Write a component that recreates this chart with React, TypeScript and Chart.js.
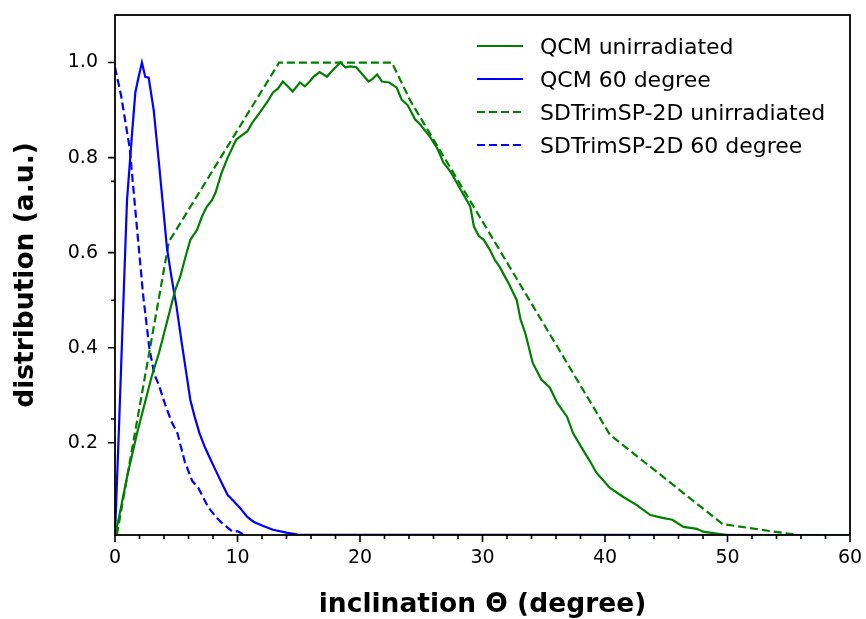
import React, { useEffect, useRef } from "react";
import { Chart, registerables } from "chart.js";

Chart.register(...registerables);

// ---- data (x = inclination in degree, y = distribution a.u.) ----
const qcmUnirradiated: [number, number][] = [
  [0, 0.006], [0.33, 0.044], [1.0, 0.13], [1.8, 0.22], [2.4, 0.28], [3.0, 0.34],
  [3.6, 0.39], [4.1, 0.44], [4.5, 0.48], [4.9, 0.52], [5.33, 0.55], [5.74, 0.59],
  [6.15, 0.627], [6.7, 0.648], [7.1, 0.676], [7.5, 0.697], [7.9, 0.71], [8.2, 0.726],
  [8.7, 0.768], [9.2, 0.8], [9.9, 0.838], [10.4, 0.848], [10.8, 0.855], [11.2, 0.873],
  [11.8, 0.894], [12.4, 0.916], [12.9, 0.937], [13.3, 0.945], [13.7, 0.96], [14.1, 0.95],
  [14.5, 0.939], [15.1, 0.958], [15.5, 0.95], [15.9, 0.96], [16.2, 0.97], [16.7, 0.98],
  [17.0, 0.975], [17.3, 0.97], [17.8, 0.985], [18.4, 1.0], [18.8, 0.99], [19.2, 0.992],
  [19.7, 0.99], [20.2, 0.975], [20.7, 0.96], [21.0, 0.965], [21.4, 0.975], [21.8, 0.96],
  [22.4, 0.958], [23.0, 0.947], [23.4, 0.922], [23.9, 0.91], [24.1, 0.9], [24.5, 0.88],
  [24.9, 0.87], [25.7, 0.844], [26.3, 0.82], [26.8, 0.79], [27.4, 0.77], [27.9, 0.747],
  [28.5, 0.72], [29.0, 0.697], [29.3, 0.655], [29.7, 0.635], [30.1, 0.627], [30.6, 0.606],
  [31.0, 0.585], [31.4, 0.57], [32.1, 0.537], [32.8, 0.5], [33.1, 0.46], [33.5, 0.43],
  [34.1, 0.368], [34.8, 0.333], [35.5, 0.316], [36.1, 0.284], [36.9, 0.255], [37.4, 0.22],
  [38.2, 0.185], [38.8, 0.16], [39.3, 0.137], [40.4, 0.105], [41.5, 0.086], [42.6, 0.069],
  [43.7, 0.048], [44.7, 0.042], [45.5, 0.038], [46.4, 0.023], [47.5, 0.019], [48.0, 0.013],
  [49.1, 0.009], [50.0, 0.006], [60.0, 0.006],
];

const qcm60Degree: [number, number][] = [
  [0, 0.006], [0.35, 0.25], [0.7, 0.507], [0.98, 0.71], [1.39, 0.85], [1.66, 0.937],
  [1.93, 0.97], [2.2, 1.0], [2.47, 0.97], [2.75, 0.968], [3.16, 0.9], [3.56, 0.796],
  [3.84, 0.72], [4.24, 0.61], [4.6, 0.55], [5.0, 0.49], [5.45, 0.41], [5.9, 0.333],
  [6.15, 0.29], [6.5, 0.255], [6.9, 0.22], [7.35, 0.19], [7.8, 0.165], [8.2, 0.143],
  [8.7, 0.116], [9.2, 0.09], [9.7, 0.077], [10.2, 0.063], [10.8, 0.044], [11.3, 0.034],
  [12.1, 0.025], [12.9, 0.017], [14.0, 0.011], [14.9, 0.007], [60.0, 0.006],
];

const sdtrimUnirradiated: [number, number][] = [
  [0.15, 0.006], [4.4, 0.623], [13.4, 1.0], [22.6, 1.0], [24.1, 0.92],
  [40.4, 0.217], [49.6, 0.029], [55.7, 0.006], [60.0, 0.006],
];

const sdtrim60Degree: [number, number][] = [
  [0, 0.99], [0.5, 0.93], [1.2, 0.82], [1.8, 0.65], [2.3, 0.51], [2.8, 0.4],
  [3.2, 0.345], [3.6, 0.32], [4.1, 0.28], [4.6, 0.245], [5.1, 0.22], [5.7, 0.16],
  [6.3, 0.12], [6.8, 0.105], [7.6, 0.065], [8.2, 0.045], [8.7, 0.032], [9.6, 0.013],
  [10.0, 0.014], [10.5, 0.007],
];

const seriesLabels = [
  "QCM unirradiated",
  "QCM 60 degree",
  "SDTrimSP-2D unirradiated",
  "SDTrimSP-2D 60 degree",
];

const xMajorTicks = [0, 10, 20, 30, 40, 50, 60];
const xMinorTicks = [2, 4, 6, 8, 12, 14, 16, 18, 22, 24, 26, 28, 32, 34, 36, 38, 42, 44, 46, 48, 52, 54, 56, 58];
const yMajorTicks = [0.2, 0.4, 0.6, 0.8, 1.0];
const yMinorTicks = [0.25, 0.5, 0.75];

const FONT = "'DejaVu Sans', sans-serif";

const frameTicksPlugin = {
  id: "frameTicks",
  afterDatasetsDraw(chart: any) {
    const { ctx, chartArea } = chart;
    const xs = chart.scales.x;
    const ys = chart.scales.y;
    ctx.save();
    ctx.strokeStyle = "#000";
    ctx.lineWidth = 1.6;
    ctx.beginPath();
    xMajorTicks.forEach((v) => {
      const px = xs.getPixelForValue(v);
      ctx.moveTo(px, chartArea.bottom);
      ctx.lineTo(px, chartArea.bottom + 7);
    });
    xMinorTicks.forEach((v) => {
      const px = xs.getPixelForValue(v);
      ctx.moveTo(px, chartArea.bottom);
      ctx.lineTo(px, chartArea.bottom + 4);
    });
    yMajorTicks.forEach((v) => {
      const py = ys.getPixelForValue(v);
      ctx.moveTo(chartArea.left, py);
      ctx.lineTo(chartArea.left - 7, py);
    });
    yMinorTicks.forEach((v) => {
      const py = ys.getPixelForValue(v);
      ctx.moveTo(chartArea.left, py);
      ctx.lineTo(chartArea.left - 4, py);
    });
    ctx.stroke();
    ctx.lineWidth = 1.8;
    ctx.strokeRect(
      chartArea.left,
      chartArea.top,
      chartArea.right - chartArea.left,
      chartArea.bottom - chartArea.top
    );
    ctx.restore();
  },
};

const legendPlugin = {
  id: "customLegend",
  afterDraw(chart: any) {
    const { ctx, chartArea } = chart;
    ctx.save();
    ctx.font = `22px ${FONT}`;
    ctx.textBaseline = "middle";
    ctx.textAlign = "left";
    chart.data.datasets.forEach((ds: any, i: number) => {
      const y = chartArea.top + 31 + i * 33;
      const x0 = chartArea.right - 373;
      ctx.strokeStyle = ds.borderColor;
      ctx.lineWidth = ds.borderWidth;
      ctx.setLineDash(ds.borderDash || []);
      ctx.beginPath();
      ctx.moveTo(x0, y);
      ctx.lineTo(x0 + 46, y);
      ctx.stroke();
      ctx.setLineDash([]);
      ctx.fillStyle = "#000";
      ctx.fillText(ds.label, chartArea.right - 310, y + 2);
    });
    ctx.restore();
  },
};

const toPoints = (arr: [number, number][]) => arr.map(([x, y]) => ({ x, y }));

const zeroPadding = (scale: any) => {
  scale.paddingLeft = 0;
  scale.paddingRight = 0;
  scale.paddingTop = 0;
  scale.paddingBottom = 0;
};

export default function App() {
  const canvasRef = useRef<HTMLCanvasElement | null>(null);

  useEffect(() => {
    if (!canvasRef.current) return;
    const chart = new Chart(canvasRef.current, {
      type: "line",
      data: {
        datasets: [
          { label: seriesLabels[0], data: toPoints(qcmUnirradiated), borderColor: "#008000", borderWidth: 2.2, pointRadius: 0, tension: 0, fill: false },
          { label: seriesLabels[1], data: toPoints(qcm60Degree), borderColor: "#0000ff", borderWidth: 2.2, pointRadius: 0, tension: 0, fill: false },
          { label: seriesLabels[2], data: toPoints(sdtrimUnirradiated), borderColor: "#008000", borderWidth: 2.2, borderDash: [8, 4], pointRadius: 0, tension: 0, fill: false },
          { label: seriesLabels[3], data: toPoints(sdtrim60Degree), borderColor: "#0000ff", borderWidth: 2.2, borderDash: [8, 4], pointRadius: 0, tension: 0, fill: false },
        ],
      },
      options: {
        animation: false,
        responsive: false,
        devicePixelRatio: 1,
        layout: { padding: { top: 15, right: 16, left: 0, bottom: 0 } },
        plugins: { legend: { display: false }, tooltip: { enabled: false } },
        scales: {
          x: {
            type: "linear",
            min: 0,
            max: 60,
            ticks: { stepSize: 10, color: "#000", font: { family: FONT, size: 19 }, padding: 12, maxRotation: 0 },
            grid: { display: false, drawTicks: false },
            border: { display: false },
            title: {
              display: true,
              text: "inclination Θ (degree)",
              color: "#000",
              font: { family: FONT, size: 26.5, weight: "bold", lineHeight: 1 },
              padding: { top: 0, bottom: 1 },
            },
            afterFit(scale: any) {
              scale.height = 84;
              zeroPadding(scale);
            },
          },
          y: {
            type: "linear",
            min: 0.006,
            max: 1.1,
            afterBuildTicks(scale: any) {
              scale.ticks = yMajorTicks.map((v) => ({ value: v }));
            },
            ticks: {
              color: "#000",
              font: { family: FONT, size: 19 },
              padding: 17,
              callback: (v: any) => Number(v).toFixed(1),
            },
            grid: { display: false, drawTicks: false },
            border: { display: false },
            title: {
              display: true,
              text: "distribution (a.u.)",
              color: "#000",
              font: { family: FONT, size: 26.5, weight: "bold", lineHeight: 1 },
              padding: { top: 13, bottom: 0 },
            },
            afterFit(scale: any) {
              scale.width = 115;
              zeroPadding(scale);
            },
          },
        },
      } as any,
      plugins: [frameTicksPlugin, legendPlugin],
    });
    return () => chart.destroy();
  }, []);

  return (
    <div style={{ position: "absolute", left: 0, top: 0, width: 866, height: 619, background: "#fff" }}>
      <canvas ref={canvasRef} width={866} height={619} />
    </div>
  );
}
